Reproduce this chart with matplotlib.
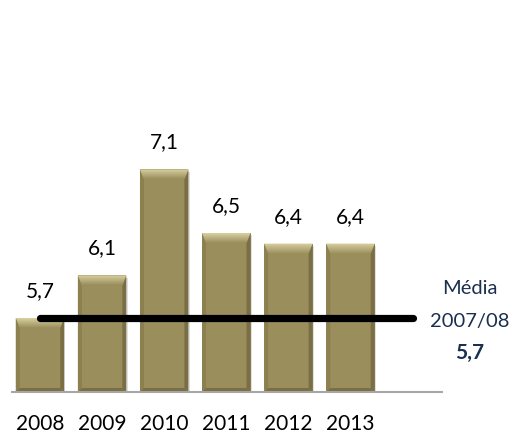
import matplotlib
matplotlib.use("Agg")
import matplotlib.pyplot as plt
import numpy as np
from matplotlib.patches import Polygon, Rectangle
from matplotlib.colors import LinearSegmentedColormap

plt.rcParams['font.family'] = ['Lato', 'DejaVu Sans']

# Data
years = ['2008', '2009', '2010', '2011', '2012', '2013']
values = [5.7, 6.1, 7.1, 6.5, 6.4, 6.4]
avg_value = 5.7
avg_label = ['Média', '2007/08']
avg_text = '5,7'

BASE = 5.0
body = '#9A8E5C'
light = '#D9D0A0'
dark = '#7A6F44'
navy = '#1B2F4E'

fig = plt.figure(figsize=(5.18, 4.42), dpi=100)
ax = fig.add_axes([11 / 518, 50 / 442, 432 / 518, 265 / 442])
ax.set_xlim(-0.467, 6.49)
ax.set_ylim(BASE, 7.5)
ax.axis('off')

x = np.arange(len(values))
w = 0.78
bars = ax.bar(x, [v - BASE for v in values], bottom=BASE, width=w,
              color=body, edgecolor='none', zorder=2)

# bevel size in data units (x: ~4 px, y: ~10 px on top, ~4 px bottom)
bx = 4 / 62.1
by_top = 10 / 106
by_bot = 4 / 106
grad = LinearSegmentedColormap.from_list('bev', [body, light])
for xi, v in zip(x, values):
    l, r = xi - w / 2, xi + w / 2
    # soft shadow
    ax.add_patch(Rectangle((l + 0.02, BASE), w, v - BASE - 0.02,
                           facecolor='#000000', alpha=0.12, edgecolor='none', zorder=1))
    # left/right darker edges
    ax.add_patch(Polygon([(l, BASE), (l + bx, BASE + by_bot), (l + bx, v - by_top), (l, v)],
                         closed=True, facecolor='#8C804F', edgecolor='none', zorder=3))
    ax.add_patch(Polygon([(r, BASE), (r - bx, BASE + by_bot), (r - bx, v - by_top), (r, v)],
                         closed=True, facecolor=dark, edgecolor='none', zorder=3))
    # bottom darker edge
    ax.add_patch(Polygon([(l, BASE), (r, BASE), (r - bx, BASE + by_bot), (l + bx, BASE + by_bot)],
                         closed=True, facecolor=dark, edgecolor='none', zorder=3))
    # top bevel gradient
    top = Polygon([(l, v), (r, v), (r - bx, v - by_top), (l + bx, v - by_top)],
                  closed=True, facecolor='none', edgecolor='none', zorder=4)
    ax.add_patch(top)
    im = ax.imshow(np.linspace(0, 1, 32).reshape(-1, 1), cmap=grad, aspect='auto',
                   extent=(l, r, v - by_top, v), origin='lower', zorder=4)
    im.set_clip_path(top)
    # value label
    ax.annotate(f'{v:.1f}'.replace('.', ','), (xi, v), xytext=(0, 15),
                textcoords='offset points', ha='center', va='baseline',
                fontsize=15, color='black', zorder=6)

ax.set_xlim(-0.467, 6.49)
ax.set_ylim(BASE, 7.5)

# baseline
ax.plot([-0.467, 6.49], [BASE, BASE], color='#A6A6A6', lw=1.5, zorder=5,
        solid_capstyle='butt', clip_on=False)

# average line
ax.plot([0, 6.0], [avg_value, avg_value], color='black', lw=5.2,
        solid_capstyle='round', zorder=5, clip_on=False)

# year labels
for xi, yr in zip(x, years):
    ax.annotate(yr, (xi, BASE), xytext=(0, -23), textcoords='offset points',
                ha='center', va='center', fontsize=15, color='black', annotation_clip=False)

# average annotation
ax.annotate(avg_label[0], (6.92, avg_value), xytext=(0, 21), textcoords='offset points',
            ha='center', va='center', fontsize=14.5, color=navy, annotation_clip=False)
ax.annotate(avg_label[1], (6.92, avg_value), xytext=(0, -3), textcoords='offset points',
            ha='center', va='center', fontsize=14.5, color=navy, annotation_clip=False)
ax.annotate(avg_text, (6.92, avg_value), xytext=(0, -25), textcoords='offset points',
            ha='center', va='center', fontsize=15, fontweight='bold', color=navy,
            annotation_clip=False)

fig.savefig('out.png', dpi=100, facecolor='white')
